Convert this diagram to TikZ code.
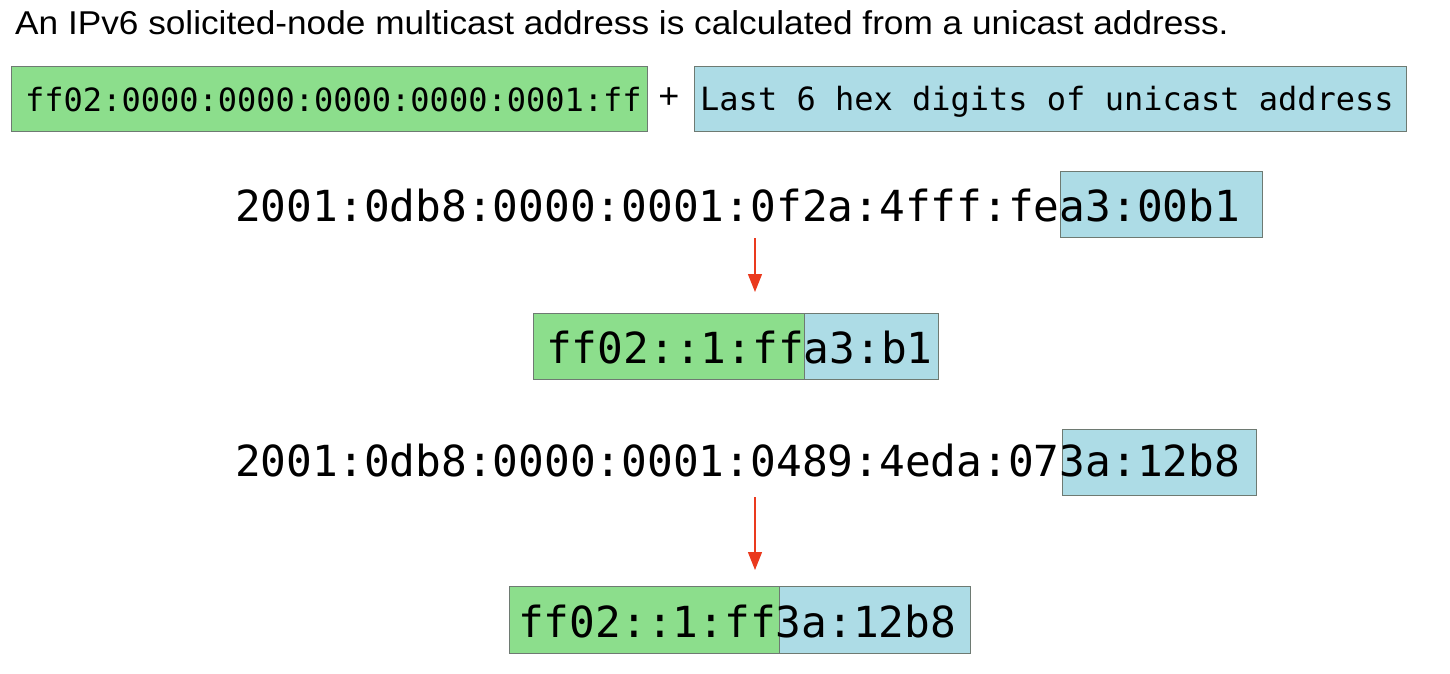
\documentclass[tikz,border=0pt]{standalone}
\usepackage{fontspec}
\setmainfont{Liberation Sans}
\newfontfamily\hexfont{DejaVu Sans Mono}
\usetikzlibrary{arrows.meta}
\definecolor{boxgreen}{HTML}{8CDE8C}
\definecolor{boxblue}{HTML}{ADDCE6}
\definecolor{boxline}{HTML}{6E7A72}
\definecolor{arrred}{HTML}{EA3A1E}
\tikzset{
  hexbox/.style={draw=boxline, line width=1pt, inner sep=0pt, outer sep=0pt},
  gbox/.style={hexbox, fill=boxgreen},
  bbox/.style={hexbox, fill=boxblue},
  smallhex/.style={inner sep=0pt, anchor=base west, font=\hexfont\fontsize{32}{36}\selectfont},
  bighex/.style={inner sep=0pt, anchor=base west, font=\hexfont\fontsize{42.8}{48}\selectfont},
  redarrow/.style={draw=arrred, line width=1.2pt, -{Triangle[width=14pt,length=18pt]}, fill=arrred}
}
\begin{document}
\begin{tikzpicture}[x=1pt,y=-1pt]
\useasboundingbox (0,0) rectangle (1450,673);
\fill[white] (0,0) rectangle (1450,673);
% title
\node[inner sep=0pt, anchor=base west, font=\fontsize{33}{38}\selectfont] (title) at (15,34)
  {\scalebox{1.067}[1]{An IPv6 solicited-node multicast address is calculated from a unicast address.}};
% top row
\path[gbox] (11,66) rectangle (647,131);
\node[smallhex] (prefix) at (25,111) {ff02:0000:0000:0000:0000:0001:ff};
\node[inner sep=0pt, font=\fontsize{36}{40}\selectfont] (plus) at (669,98) {+};
\path[bbox] (694,66) rectangle (1406,131);
\node[smallhex] (last6) at (700,110) {Last 6 hex digits of unicast address};
% example 1
\path[bbox] (1060,171) rectangle (1262,237);
\node[bighex] (uni1) at (235,221) {2001:0db8:0000:0001:0f2a:4fff:fea3:00b1};
\path[gbox] (533,313) rectangle (804,379);
\path[bbox] (804,313) rectangle (938,379);
\node[bighex] (sn1) at (546,363) {ff02::1:ffa3:b1};
\coordinate (a1s) at (755,238);
\coordinate (a1e) at (755,292);
\draw[redarrow] (a1s) -- (a1e);
% example 2
\path[bbox] (1062,429) rectangle (1256,495);
\node[bighex] (uni2) at (235,476) {2001:0db8:0000:0001:0489:4eda:073a:12b8};
\path[gbox] (509,586) rectangle (779,653);
\path[bbox] (779,586) rectangle (970,653);
\node[bighex] (sn2) at (518,637) {ff02::1:ff3a:12b8};
\coordinate (a2s) at (755,497);
\coordinate (a2e) at (755,570);
\draw[redarrow] (a2s) -- (a2e);
\end{tikzpicture}
\end{document}
